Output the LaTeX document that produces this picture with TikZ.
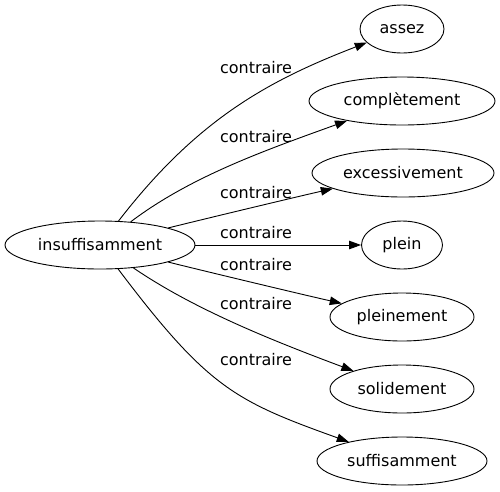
\documentclass[tikz,border=0pt]{standalone}
\usepackage{fontspec}
\setmainfont{DejaVu Sans}
\usetikzlibrary{shapes.geometric,arrows.meta}
\begin{document}
\begin{tikzpicture}[x=1pt,y=-1pt,
  every node/.style={font=\fontsize{16}{19}\selectfont},
  word/.style={ellipse,draw,line width=0.9pt,inner sep=0pt,minimum height=48pt},
  lab/.style={inner sep=0pt},
  rel/.style={line width=0.9pt,-{Triangle[length=12pt,width=8.5pt]}}]
\useasboundingbox (0,0) rectangle (500,491);
\node[word,minimum width=190pt] (c) at (100,245) {insuffisamment};
\node[word,minimum width=84pt] (n1) at (402,29) {assez};
\node[word,minimum width=186pt] (n2) at (402,101) {complètement};
\node[word,minimum width=182pt] (n3) at (403,173) {excessivement};
\node[word,minimum width=81pt] (n4) at (402,245) {plein};
\node[word,minimum width=144pt] (n5) at (402,317) {pleinement};
\node[word,minimum width=144pt] (n6) at (402,389) {solidement};
\node[word,minimum width=170pt] (n7) at (402,461) {suffisamment};
\draw[rel] (c) .. controls (198,118) and (270,80) .. (n1);
\draw[rel] (c) .. controls (190,177) and (263,151) .. (n2);
\draw[rel] (c) .. controls (200,220) and (300,196) .. (n3);
\draw[rel] (c) -- (n4);
\draw[rel] (c) .. controls (200,270) and (300,294) .. (n5);
\draw[rel] (c) .. controls (192,308) and (268,339) .. (n6);
\draw[rel] (c) .. controls (208,388) and (235,401) .. (n7);
\node[lab] (l1) at (256,68) {contraire};
\node[lab] (l2) at (256,137) {contraire};
\node[lab] (l3) at (256,193) {contraire};
\node[lab] (l4) at (256,233) {contraire};
\node[lab] (l5) at (256,265) {contraire};
\node[lab] (l6) at (256,304) {contraire};
\node[lab] (l7) at (256,360) {contraire};
\end{tikzpicture}
\end{document}
